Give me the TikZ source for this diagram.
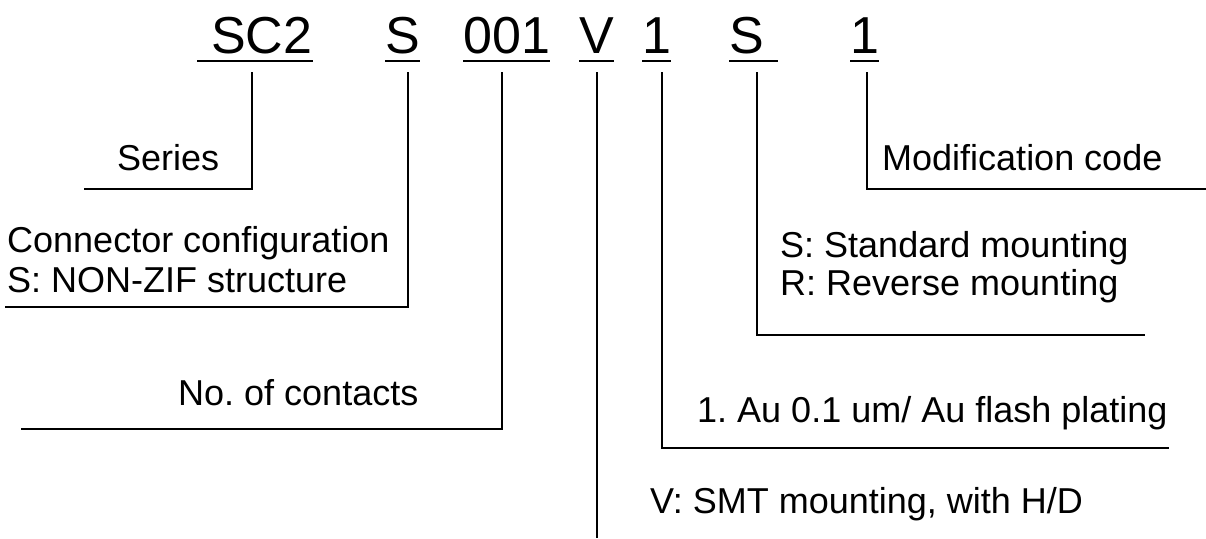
\documentclass[tikz,border=0pt]{standalone}
\usepackage{fontspec}
\setmainfont{Liberation Sans}
\frenchspacing
\begin{document}
\begin{tikzpicture}[x=1pt,y=-1pt,
  codetxt/.style={inner sep=0pt,anchor=base west,font=\fontsize{52}{60}\selectfont},
  lbl/.style={inner sep=0pt,anchor=base west,font=\fontsize{36}{42}\selectfont\frenchspacing},
  uline/.style={line width=2.7pt},
  conn/.style={line width=2pt}]
\useasboundingbox (0,0) rectangle (1206,538);
% code parts
\node[codetxt] (sc2) at (211,53) {SC2};
\node[codetxt] (cs) at (385,53) {S};
\node[codetxt] (cn) at (463,53) {001};
\node[codetxt] (cv) at (579,53) {V};
\node[codetxt] (cp) at (642,53) {1};
\node[codetxt] (cm) at (729,53) {S};
\node[codetxt] (cc) at (850,53) {1};
% underlines
\draw[uline] (197,61) -- (313,61);
\draw[uline] (385,61) -- (420,61);
\draw[uline] (463,61) -- (550,61);
\draw[uline] (579,61) -- (614,61);
\draw[uline] (642,61) -- (671,61);
\draw[uline] (729,61) -- (778,61);
\draw[uline] (850,61) -- (879,61);
% labels
\node[lbl] (lser) at (117,170) {Series};
\node[lbl] (lcon1) at (7,252) {Connector configuration};
\node[lbl] (lcon2) at (7,292) {S: NON-ZIF structure};
\node[lbl] (lnum) at (178,405) {No. of contacts};
\node[lbl] (lmod) at (882,170) {Modification code};
\node[lbl] (lstd) at (780,257) {S: Standard mounting};
\node[lbl] (lrev) at (780,295) {R: Reverse mounting};
\node[lbl] (lpl) at (697,422) {1. Au 0.1 um/ Au flash plating};
\node[lbl] (lsmt) at (650,513) {V: SMT mounting, with H/D};
% connector coordinates
\coordinate (t1) at (252,72);  \coordinate (k1) at (252,189); \coordinate (e1) at (84,189);
\coordinate (t2) at (408,72);  \coordinate (k2) at (408,307); \coordinate (e2) at (5,307);
\coordinate (t3) at (502,72);  \coordinate (k3) at (502,429); \coordinate (e3) at (21,429);
\coordinate (t4) at (597,72);  \coordinate (e4) at (597,538);
\coordinate (t5) at (662,72);  \coordinate (k5) at (662,448); \coordinate (e5) at (1169,448);
\coordinate (t6) at (757,72);  \coordinate (k6) at (757,335); \coordinate (e6) at (1145,335);
\coordinate (t7) at (867,72);  \coordinate (k7) at (867,189); \coordinate (e7) at (1206,189);
\draw[conn] (t1) -- (k1) -- (e1);
\draw[conn] (t2) -- (k2) -- (e2);
\draw[conn] (t3) -- (k3) -- (e3);
\draw[conn] (t4) -- (e4);
\draw[conn] (t5) -- (k5) -- (e5);
\draw[conn] (t6) -- (k6) -- (e6);
\draw[conn] (t7) -- (k7) -- (e7);
\end{tikzpicture}
\end{document}
